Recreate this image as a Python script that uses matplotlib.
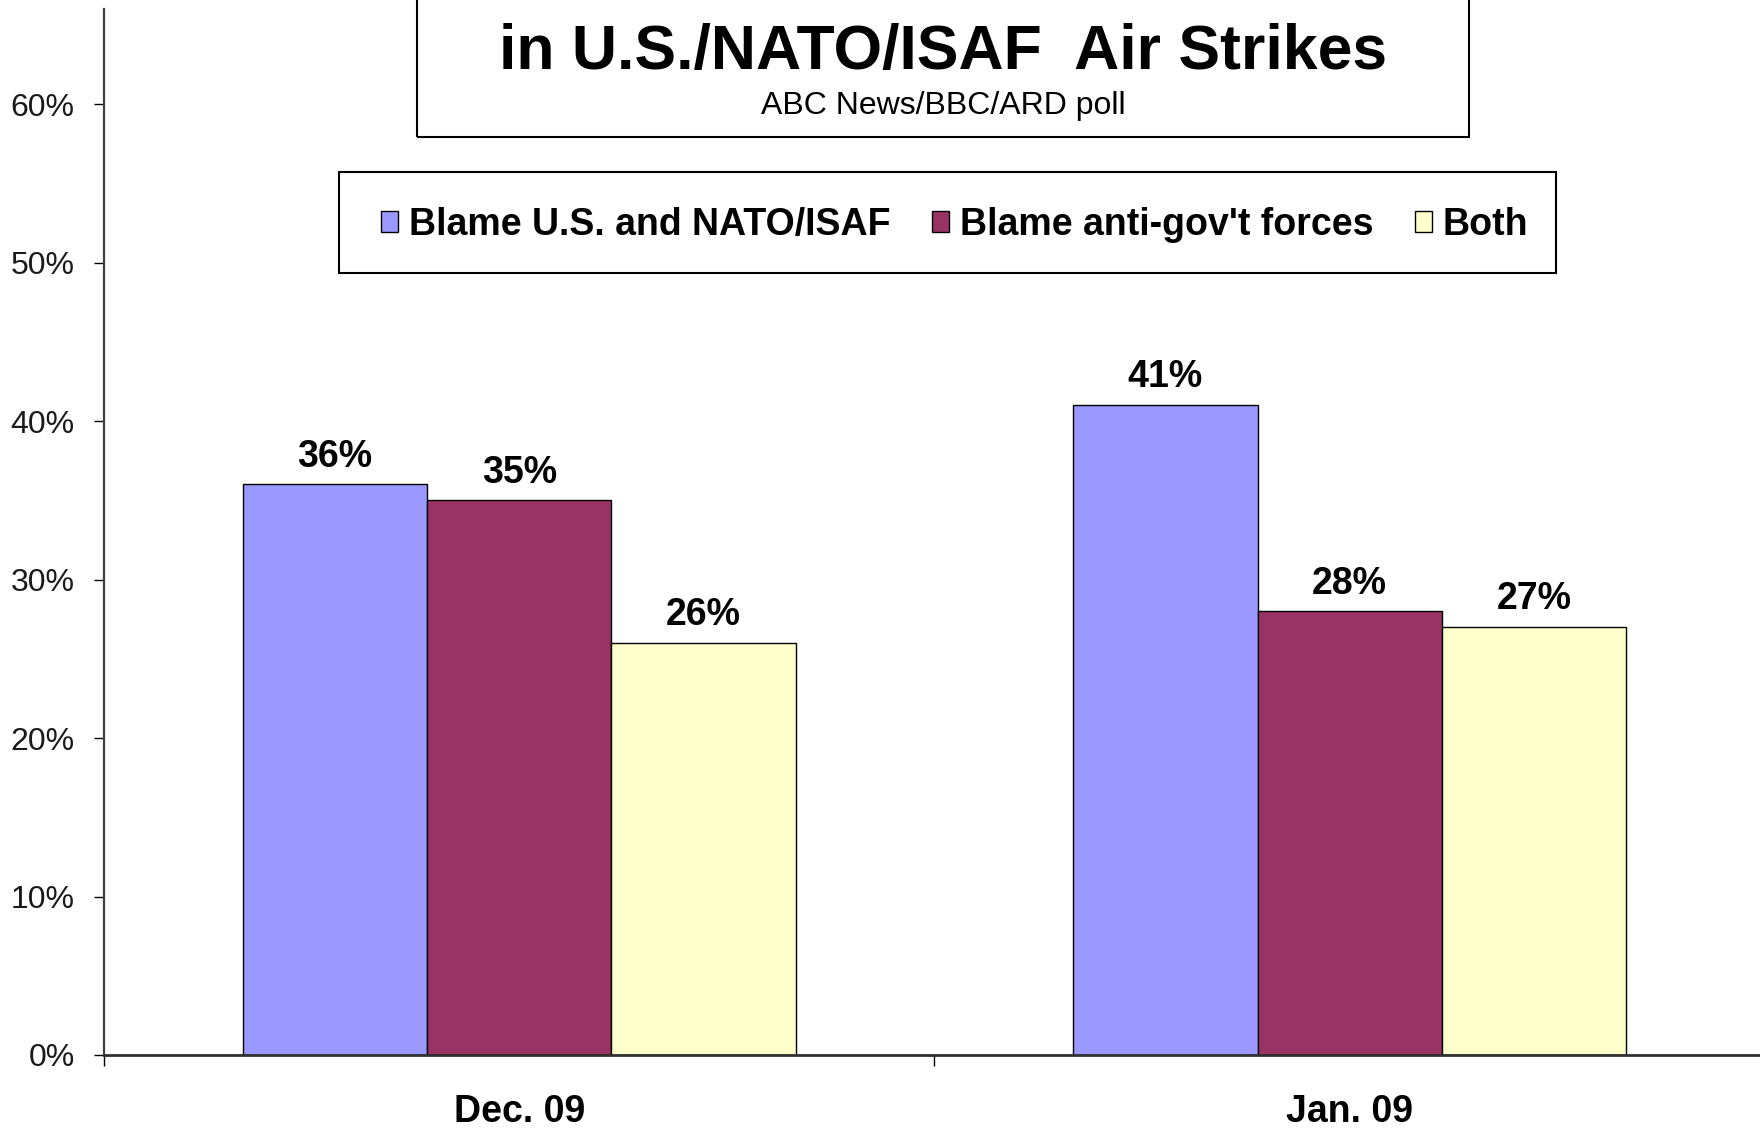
import matplotlib

matplotlib.use("Agg")
import matplotlib.pyplot as plt
from matplotlib.patches import Rectangle
from matplotlib.ticker import FixedLocator

plt.rcParams["font.family"] = ["Liberation Sans", "DejaVu Sans"]

# data
periods = ["Dec. 09", "Jan. 09"]
series = ["Blame U.S. and NATO/ISAF", "Blame anti-gov't forces", "Both"]
blame_us = [36, 41]
blame_afg = [35, 28]
both = [26, 27]
colors = ["#9999FF", "#993366", "#FFFFCC"]
yticks = [0, 10, 20, 30, 40, 50, 60]

W, H = 1760, 1128
fig = plt.figure(figsize=(W / 100, H / 100), dpi=100)
ax = fig.add_axes([104 / W, 73 / H, 1 - 104 / W, (1055 - 9) / H])

bw = 0.222
x = list(range(len(periods)))
for i, (vals, col, name) in enumerate(zip([blame_us, blame_afg, both], colors, series)):
    bars = ax.bar([p + (i - 1) * bw for p in x], vals, width=bw, color=col,
                  edgecolor="black", linewidth=1.0, label=name, zorder=2)
    ax.bar_label(bars, labels=[f"{v}%" for v in vals], padding=7,
                 fontsize=27, fontweight="bold")

ax.set_xlim(-0.5, 1.494)
ax.set_ylim(0, 66)
ax.set_yticks(yticks)
ax.set_yticklabels([f"{v}%" for v in yticks])
ax.tick_params(axis="y", labelsize=23, length=7, width=1, pad=14,
               colors="black", labelcolor="#1a1a1a")

ax.xaxis.set_major_locator(FixedLocator([-0.5, 0.5, 1.5]))
ax.xaxis.set_major_formatter(plt.NullFormatter())
ax.xaxis.set_minor_locator(FixedLocator(x))
ax.set_xticklabels(periods, minor=True, fontsize=27, fontweight="bold")
ax.tick_params(axis="x", which="major", length=8, width=1)
ax.tick_params(axis="x", which="minor", length=0, pad=28)

for s in ("top", "right"):
    ax.spines[s].set_visible(False)
ax.spines["left"].set_color("#404040")
ax.spines["left"].set_linewidth(1.6)
ax.spines["bottom"].set_color("#303030")
ax.spines["bottom"].set_linewidth(2.0)

# title box (top edge runs off the figure)
fig.add_artist(Rectangle((417 / W, 1 - 137 / H), (1469 - 417) / W, 0.2,
                         transform=fig.transFigure, fill=False,
                         edgecolor="black", linewidth=1.5))
fig.text((417 + 1469) / 2 / W, 1 - 52 / H, "in U.S./NATO/ISAF  Air Strikes",
         ha="center", va="center", fontsize=45, fontweight="bold")
fig.text((417 + 1469) / 2 / W, 1 - 106 / H, "ABC News/BBC/ARD poll",
         ha="center", va="center", fontsize=23)

# legend box
fig.add_artist(Rectangle((339 / W, 1 - 273 / H), (1556 - 339) / W, (273 - 172) / H,
                         transform=fig.transFigure, fill=False,
                         edgecolor="black", linewidth=1.5))
fig.legend(loc="center", bbox_to_anchor=((339 + 1556) / 2 / W + 7 / W, 1 - 225 / H),
           ncol=3, frameon=False, prop={"size": 27, "weight": "bold"},
           handlelength=0.47, handleheight=0.47, handletextpad=0.28,
           columnspacing=1.1, borderpad=0)

fig.savefig("out.png", dpi=100)
